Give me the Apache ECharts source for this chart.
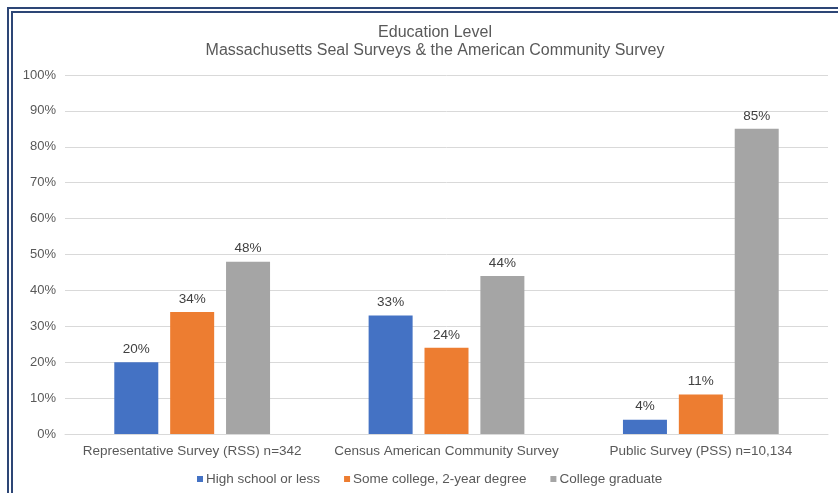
<!DOCTYPE html>
<html><head><meta charset="utf-8">
<script src="https://cdn.jsdelivr.net/npm/echarts@6/dist/echarts.min.js"></script>
<style>
html,body{margin:0;padding:0;background:#fff;}
#c{position:absolute;left:0;top:0;width:838px;height:493px;}
#frame{position:absolute;left:7px;top:7px;width:900px;height:600px;border-left:6px double #2d4676;border-top:6px double #2d4676;pointer-events:none;}
</style></head>
<body>
<div id="c"></div>
<div id="frame"></div>
<script>
const categories = ['Representative Survey (RSS) n=342', 'Census American Community Survey', 'Public Survey (PSS) n=10,134'];
const highSchool = [20, 33, 4];
const someCollege = [34, 24, 11];
const collegeGrad = [48, 44, 85];
const seriesNames = ['High school or less', 'Some college, 2-year degree', 'College graduate'];
const colors = ['#4472C4', '#ED7D31', '#A5A5A5'];

const chart = echarts.init(document.getElementById('c'));
const font = 'Liberation Sans, Arial, sans-serif';
function mk(name, data, color) {
  return {
    name: name, type: 'bar', data: data, barWidth: 44, barGap: '27%',
    itemStyle: {color: color},
    label: {show: true, position: 'top', formatter: '{c}%', color: '#404040', fontSize: 13.5, fontFamily: font, distance: 6}
  };
}
chart.setOption({
  animation: false,
  title: {
    text: 'Education Level\nMassachusetts Seal Surveys & the American Community Survey',
    left: 430, textAlign: 'center', top: 19,
    textStyle: {fontSize: 16, fontWeight: 'normal', color: '#595959', fontFamily: font, lineHeight: 18}
  },
  legend: {
    bottom: 2, left: 192, itemWidth: 6, itemHeight: 6, itemGap: 24, icon: 'rect',
    textStyle: {fontSize: 13.5, color: '#595959', fontFamily: font, padding: [0,0,0,-2]},
    data: seriesNames
  },
  grid: {left: 65, right: 10, top: 75, bottom: 59},
  xAxis: {
    type: 'category', data: categories,
    axisLine: {lineStyle: {color: '#d9d9d9'}}, axisTick: {show: false},
    axisLabel: {color: '#595959', fontSize: 13.5, fontFamily: font, margin: 10, interval: 0}
  },
  yAxis: {
    type: 'value', min: 0, max: 100, interval: 10,
    axisLabel: {formatter: '{value}%', color: '#595959', fontSize: 13, fontFamily: font, margin: 9},
    splitLine: {lineStyle: {color: '#d9d9d9'}},
    axisLine: {show: false}, axisTick: {show: false}
  },
  series: [mk(seriesNames[0], highSchool, colors[0]), mk(seriesNames[1], someCollege, colors[1]), mk(seriesNames[2], collegeGrad, colors[2])]
});
</script>
</body></html>
